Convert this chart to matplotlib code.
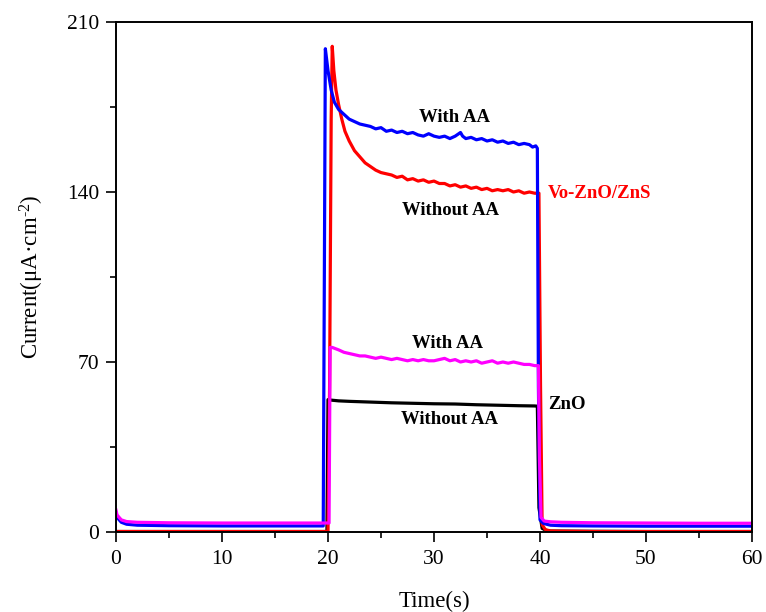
import matplotlib
matplotlib.use("Agg")
import matplotlib.pyplot as plt
from matplotlib.ticker import MultipleLocator

plt.rcParams['font.family'] = ['Liberation Serif', 'DejaVu Serif']
plt.rcParams['mathtext.fontset'] = 'custom'
plt.rcParams['mathtext.rm'] = 'Liberation Serif'
plt.rcParams['mathtext.it'] = 'Liberation Serif:italic'

# Vo-ZnO/ZnS with AA (blue)
t_blue = [0, 0.1, 0.5, 1, 2, 5, 10, 15, 19.55, 19.65, 19.75, 20.0, 20.3, 20.6, 21, 21.5, 22, 22.5, 23, 23.5,
          24, 24.5, 25, 25.5, 26, 26.5, 27, 27.5, 28, 28.5, 29, 29.5, 30, 30.5, 31, 31.5, 32, 32.5, 32.7, 33,
          33.5, 34, 34.5, 35, 35.5, 36, 36.5, 37, 37.5, 38, 38.5, 39, 39.3, 39.6, 39.75, 39.85, 40.0, 40.3,
          40.7, 41, 42, 45, 50, 55, 60]
i_blue = [8, 6, 4, 3.2, 2.8, 2.6, 2.5, 2.5, 2.5, 100, 199, 190, 182, 177, 174, 172, 170, 169, 168, 167.5,
          167, 166, 166.5, 165, 165.5, 164.5, 165, 164, 164.5, 163.5, 163, 164, 163, 162.5, 163, 162, 163, 164.5, 163, 162,
          162.5, 161.5, 162, 161, 161.5, 160.5, 161, 160, 160.5, 159.5, 160, 159.5, 158.5, 159, 158, 60, 5, 3.6,
          3.1, 2.8, 2.6, 2.5, 2.4, 2.4, 2.4]

# Vo-ZnO/ZnS without AA (red)
t_red = [0, 5, 10, 15, 20.0, 20.15, 20.3, 20.4, 20.55, 20.75, 21, 21.3, 21.6, 22, 22.5, 23, 23.5, 24, 24.5,
         25, 25.5, 26, 26.5, 27, 27.5, 28, 28.5, 29, 29.5, 30, 30.5, 31, 31.5, 32, 32.5, 33, 33.5, 34, 34.5,
         35, 35.5, 36, 36.5, 37, 37.5, 38, 38.5, 39, 39.5, 39.9, 40.05, 40.2, 40.5, 41, 45, 50, 60]
i_red = [0.2, 0.2, 0.2, 0.2, 0.2, 60, 170, 200, 190, 182, 176, 170, 165, 161, 157, 154.5, 152, 150.5, 149,
         148, 147.5, 147, 146, 146.5, 145, 145.5, 144.5, 145, 144, 144.5, 143.5, 143.5, 142.5, 143, 142, 142.5, 141.5, 142, 141,
         141.5, 140.5, 141, 140.5, 141, 140, 140.5, 139.5, 140, 139.5, 139.5, 60, 3, 1, 0.4, 0.2, 0.2, 0.2]

# ZnO with AA (magenta)
t_mag = [0, 0.1, 0.5, 1, 2, 5, 10, 15, 20.1, 20.2, 20.4, 21, 21.5, 22, 22.5, 23, 23.5, 24, 24.5, 25, 25.5,
         26, 26.5, 27, 27.5, 28, 28.5, 29, 29.5, 30, 30.5, 31, 31.5, 32, 32.5, 33, 33.5, 34, 34.5, 35, 35.5,
         36, 36.5, 37, 37.5, 38, 38.5, 39, 39.5, 39.85, 39.95, 40.1, 40.4, 41, 42, 45, 50, 55, 60]
i_mag = [9, 7, 5, 4.3, 4.0, 3.8, 3.7, 3.7, 3.7, 76, 76, 75, 74, 73.5, 73, 72.5, 72.5, 72, 71.5, 72, 71.5,
         71, 71.5, 71, 70.5, 71, 70.5, 71, 70.5, 70.5, 71, 71.5, 70.5, 71, 70, 70.5, 70, 70.5, 69.5, 70, 70.5,
         69.5, 70, 69.5, 70, 69.5, 69, 69, 68.5, 68.5, 30, 6, 4.5, 4.2, 4.0, 3.8, 3.7, 3.6, 3.6]

# ZnO without AA (black)
t_blk = [0, 5, 10, 15, 19.9, 20.0, 20.3, 21, 22, 24, 26, 28, 30, 32, 34, 36, 38, 39.5, 39.75, 39.9, 40.2,
         40.6, 41, 45, 50, 60]
i_blk = [0.2, 0.2, 0.2, 0.2, 0.2, 54.5, 54.3, 54, 53.8, 53.5, 53.2, 53, 52.8, 52.7, 52.4, 52.2, 52, 51.9,
         51.8, 10, 1.5, 0.6, 0.4, 0.3, 0.2, 0.2]

x_ticks = [0, 10, 20, 30, 40, 50, 60]
y_ticks = [0, 70, 140, 210]

fig = plt.figure(figsize=(7.66, 6.12), dpi=100)
ax = fig.add_axes([116/766, 80/612, 636/766, 510/612])

lw = 2.3
ax.plot(t_blk, i_blk, color='black', lw=lw)
ax.plot(t_red, i_red, color='#ff0000', lw=lw)
ax.plot(t_blue, i_blue, color='#0000ff', lw=lw)
ax.plot(t_mag, i_mag, color='#ff00ff', lw=lw)

ax.set_xlim(0, 60)
ax.set_ylim(0, 210)
ax.set_xticks(x_ticks)
ax.set_yticks(y_ticks)
ax.xaxis.set_minor_locator(MultipleLocator(5))
ax.yaxis.set_minor_locator(MultipleLocator(35))
ax.tick_params(which='major', direction='out', length=7, width=1.2, labelsize=15.5)
ax.tick_params(axis='x', which='major', pad=6)
ax.tick_params(axis='y', which='major', pad=5)
ax.tick_params(which='minor', direction='out', length=4, width=1.2)
ax.tick_params(top=False, right=False, which='both')
for s in ax.spines.values():
    s.set_linewidth(1.4)

ax.set_xlabel('Time(s)', fontsize=16.5, labelpad=16)
ax.set_ylabel(r'Current(μA·cm$^{\text{-2}}$)', fontsize=16.5, labelpad=15)

fs = 13.5
ax.text(31.9, 170.8, 'With AA', ha='center', va='center', fontsize=fs, fontweight='bold')
ax.text(31.6, 132.5, 'Without AA', ha='center', va='center', fontsize=fs, fontweight='bold')
ax.text(31.3, 77.8, 'With AA', ha='center', va='center', fontsize=fs, fontweight='bold')
ax.text(31.45, 46.5, 'Without AA', ha='center', va='center', fontsize=fs, fontweight='bold')
ax.text(40.75, 139.5, 'Vo-ZnO/ZnS', ha='left', va='center', fontsize=fs, fontweight='bold', color='#ff0000')
ax.text(40.75, 52.3, 'ZnO', ha='left', va='center', fontsize=fs, fontweight='bold', color='black')

fig.savefig('out.png', dpi=100)
